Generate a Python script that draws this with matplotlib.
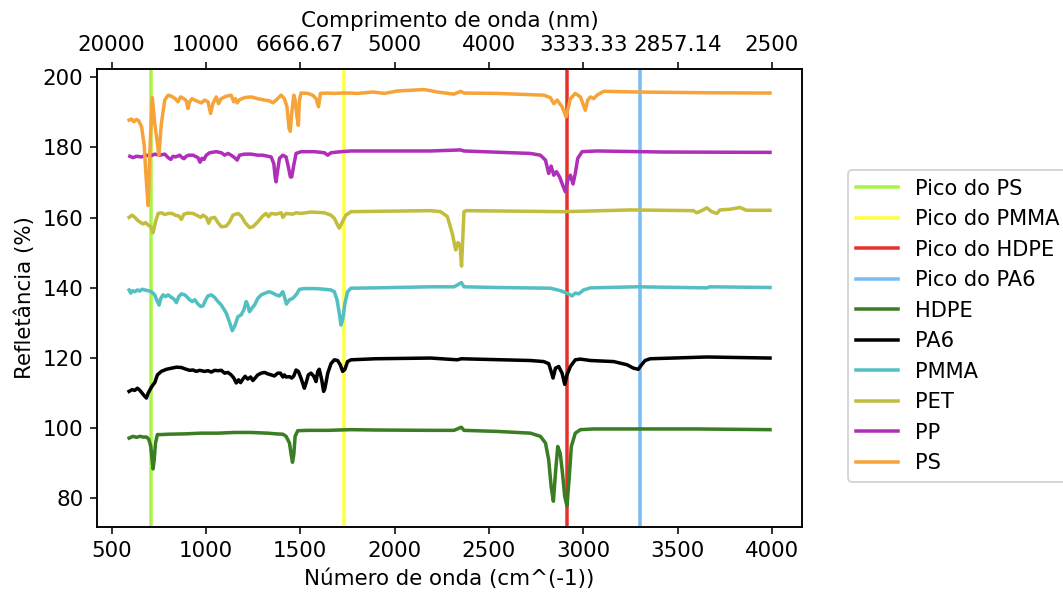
import numpy as np
import matplotlib
matplotlib.use("Agg")
import matplotlib.pyplot as plt

# picos de referencia (cm^-1)
peak_names = ["Pico do PS", "Pico do PMMA", "Pico do HDPE", "Pico do PA6"]
peak_pos = [708, 1730, 2915, 3300]
peak_colors = ["#a9f545", "#ffff3f", "#e8302a", "#78bdf7"]

# espectros: numero de onda (cm^-1) e refletancia (%)
wn_hdpe = [593, 614, 632, 650, 667, 685, 697, 708, 715, 720, 726, 733, 743, 764, 800,
           888, 976, 1064, 1152, 1240, 1328, 1372, 1408, 1425, 1443, 1452, 1459, 1466,
           1473, 1487, 1540, 1646, 1769, 1900, 2192, 2315, 2333, 2354, 2368, 2544, 2720,
           2773, 2800, 2817, 2830, 2842, 2853, 2865, 2878, 2890, 2902, 2914, 2925, 2937,
           2958, 2985, 3055, 3285, 3602, 3990]
r_hdpe = [97.2, 97.7, 97.4, 97.7, 97.5, 97.5, 96.9, 94.8, 91.0, 88.4, 91.0, 95.8, 98.2, 98.2,
          98.3, 98.4, 98.6, 98.6, 98.8, 98.8, 98.6, 98.4, 98.3, 97.7, 95.8, 92.5, 90.3, 92.5,
          97.7, 99.3, 99.4, 99.4, 99.6, 99.5, 99.4, 99.4, 99.8, 100.3, 99.4, 99.1, 98.6,
          97.7, 95.8, 91.0, 83.4, 79.2, 87.3, 94.8, 92.9, 87.3, 80.6, 77.8, 85.4, 94.8,
          98.6, 99.6, 99.8, 99.8, 99.8, 99.6]

wn_pa6 = [593, 609, 623, 637, 650, 662, 676, 685, 694, 708, 720, 729, 743, 764, 791, 817,
          844, 870, 896, 914, 932, 949, 967, 993, 1011, 1029, 1046, 1064, 1082, 1099, 1117,
          1134, 1148, 1161, 1173, 1184, 1196, 1208, 1222, 1237, 1249, 1261, 1275, 1293, 1311,
          1328, 1346, 1363, 1381, 1395, 1408, 1416, 1425, 1443, 1455, 1466, 1478, 1490, 1504,
          1522, 1531, 1543, 1557, 1571, 1584, 1593, 1601, 1614, 1624, 1631, 1646, 1663, 1681,
          1698, 1712, 1725, 1737, 1751, 1769, 1900, 2192, 2333, 2354, 2720, 2791, 2817, 2830,
          2840, 2853, 2870, 2888, 2902, 2914, 2932, 2958, 2985, 3038, 3161, 3232, 3267, 3292,
          3305, 3328, 3355, 3655, 3990]
r_pa6 = [110.5, 111.0, 110.8, 111.4, 110.8, 110.0, 109.1, 108.6, 110.0, 111.4, 112.4, 113.0,
         115.2, 116.2, 116.8, 117.1, 117.4, 117.3, 116.8, 116.5, 116.6, 116.2, 116.5, 116.2,
         116.4, 116.0, 116.5, 116.4, 116.5, 115.7, 115.9, 115.2, 114.3, 112.9, 113.8, 113.0,
         114.0, 114.8, 114.0, 114.6, 113.6, 114.3, 115.2, 115.7, 115.9, 115.5, 115.2, 114.9,
         115.7, 115.7, 114.6, 115.2, 114.6, 114.7, 114.3, 114.9, 116.6, 116.2, 114.3, 111.4,
         112.9, 115.2, 115.7, 114.9, 113.3, 116.2, 116.8, 113.8, 110.5, 111.4, 115.7, 118.4,
         119.5, 119.3, 118.1, 116.2, 116.8, 119.0, 119.5, 119.8, 120.0, 119.5, 119.8, 119.3,
         119.0, 118.4, 116.2, 114.3, 117.1, 117.6, 115.7, 112.5, 115.2, 117.6, 119.5, 119.7,
         119.3, 119.0, 118.1, 117.1, 116.8, 117.8, 119.3, 119.8, 120.3, 120.0]

wn_pmma = [593, 602, 611, 623, 637, 650, 662, 676, 694, 711, 729, 743, 752, 761, 773, 786,
           800, 817, 831, 844, 856, 870, 888, 902, 914, 927, 941, 958, 972, 985, 997, 1011,
           1029, 1046, 1064, 1082, 1108, 1126, 1140, 1152, 1170, 1187, 1201, 1214, 1223, 1231,
           1244, 1258, 1275, 1293, 1319, 1337, 1355, 1372, 1390, 1408, 1416, 1427, 1443, 1460,
           1478, 1496, 1522, 1575, 1610, 1663, 1681, 1695, 1707, 1716, 1725, 1737, 1751, 1769,
           1900, 2192, 2315, 2333, 2354, 2368, 2544, 2826, 2879, 2914, 2941, 2958, 2976, 3002,
           3038, 3285, 3655, 3672, 3990]
r_pmma = [139.4, 138.5, 139.2, 138.9, 139.4, 139.1, 139.6, 139.4, 139.2, 138.9, 138.0, 136.1,
          135.1, 137.0, 138.0, 137.5, 138.0, 137.3, 136.8, 135.8, 137.5, 138.3, 138.0, 137.3,
          136.6, 136.1, 136.6, 135.4, 134.7, 134.9, 136.4, 137.7, 138.0, 137.3, 136.1, 135.1,
          132.8, 130.1, 127.8, 129.0, 131.8, 132.3, 133.7, 136.1, 134.9, 133.2, 134.2, 135.1,
          137.0, 138.0, 138.6, 138.9, 138.5, 138.0, 137.7, 138.9, 137.5, 135.4, 136.6, 137.0,
          138.0, 139.6, 139.8, 139.8, 139.7, 139.4, 138.9, 136.6, 132.8, 129.4, 130.9, 135.6,
          138.9, 139.9, 140.0, 140.3, 140.3, 140.8, 141.5, 140.3, 140.1, 139.9, 139.2, 138.5,
          137.7, 138.5, 138.3, 139.4, 140.0, 140.3, 140.0, 140.3, 140.1]

wn_pet = [593, 609, 623, 641, 655, 667, 680, 694, 708, 720, 733, 747, 764, 782, 800, 821,
          838, 856, 870, 884, 905, 932, 958, 972, 985, 1002, 1015, 1025, 1046, 1064, 1082,
          1108, 1126, 1143, 1170, 1187, 1208, 1231, 1249, 1275, 1302, 1319, 1332, 1346, 1372,
          1399, 1408, 1425, 1460, 1478, 1504, 1531, 1557, 1593, 1628, 1663, 1681, 1698, 1707,
          1720, 1742, 1769, 1900, 2192, 2244, 2280, 2306, 2324, 2336, 2347, 2355, 2368, 2382,
          2896, 3249, 3584, 3602, 3628, 3655, 3681, 3708, 3725, 3778, 3831, 3866, 3990]
r_pet = [160.1, 160.7, 160.1, 159.1, 158.6, 158.2, 158.6, 157.9, 157.4, 155.7, 158.8, 161.2,
         161.4, 160.9, 161.2, 161.2, 160.7, 160.5, 159.5, 161.0, 161.3, 161.2, 160.5, 160.1,
         160.7, 160.1, 158.4, 159.8, 160.1, 158.6, 157.4, 157.6, 158.8, 160.7, 161.2, 160.5,
         158.6, 157.2, 157.4, 158.8, 160.5, 161.2, 160.3, 161.2, 161.0, 161.4, 160.1, 161.2,
         161.0, 161.4, 161.2, 161.4, 161.6, 161.5, 161.4, 160.7, 159.8, 157.9, 157.0, 158.4,
         160.7, 161.7, 161.8, 162.0, 161.7, 160.3, 155.5, 150.8, 152.9, 152.2, 146.2, 161.7,
         162.0, 161.7, 162.2, 162.0, 161.4, 162.0, 162.8, 161.7, 161.2, 162.2, 162.4, 162.9,
         162.1, 162.1]

wn_pp = [597, 614, 632, 659, 685, 703, 729, 755, 782, 800, 814, 826, 838, 849, 861, 874,
         884, 896, 909, 932, 958, 969, 979, 990, 1002, 1020, 1055, 1082, 1099, 1117, 1134,
         1152, 1166, 1178, 1205, 1240, 1275, 1302, 1328, 1346, 1360, 1367, 1372, 1378, 1390,
         1408, 1425, 1437, 1448, 1455, 1466, 1478, 1504, 1575, 1628, 1646, 1663, 1716, 1769,
         1900, 2192, 2350, 2368, 2720, 2773, 2800, 2817, 2830, 2844, 2858, 2875, 2891, 2905,
         2918, 2932, 2946, 2958, 2971, 2994, 3073, 3425, 3990]
r_pp = [177.5, 177.1, 177.5, 177.3, 177.8, 177.5, 178.1, 177.8, 178.1, 177.1, 176.6, 177.5,
        177.3, 177.5, 177.8, 177.1, 176.8, 177.5, 177.8, 177.8, 177.1, 175.8, 176.9, 176.6,
        177.8, 178.5, 178.8, 178.5, 177.8, 178.3, 177.8, 177.1, 176.4, 177.8, 178.1, 178.1,
        177.8, 177.8, 177.5, 177.3, 175.4, 171.6, 170.2, 172.6, 176.9, 177.8, 177.3, 174.5,
        171.6, 171.6, 175.0, 178.3, 178.8, 178.8, 178.5, 177.8, 178.5, 178.8, 179.0, 179.0,
        179.0, 179.3, 179.0, 178.3, 177.8, 176.4, 172.6, 174.7, 172.1, 173.1, 171.6, 169.3,
        167.4, 170.7, 172.1, 169.6, 172.6, 176.9, 178.8, 179.0, 178.7, 178.6]

wn_ps = [593, 606, 618, 632, 644, 659, 673, 683, 694, 704, 716, 729, 751, 764, 782, 800,
         817, 838, 852, 866, 884, 896, 905, 914, 926, 949, 976, 993, 1011, 1025, 1037, 1055,
         1067, 1081, 1108, 1134, 1148, 1157, 1166, 1178, 1205, 1240, 1275, 1311, 1337, 1355,
         1372, 1399, 1416, 1430, 1441, 1447, 1455, 1466, 1473, 1483, 1490, 1496, 1504, 1540,
         1566, 1584, 1597, 1607, 1645, 1681, 1716, 1760, 1804, 1887, 1945, 2016, 2157, 2227,
         2315, 2350, 2368, 2544, 2791, 2826, 2844, 2862, 2888, 2909, 2932, 2958, 2985, 3011,
         3024, 3038, 3055, 3073, 3108, 3285, 3637, 3990]
r_ps = [187.8, 188.1, 187.3, 188.0, 187.6, 185.9, 180.7, 171.6, 163.5, 180.2, 194.2, 186.8,
        177.8, 186.8, 193.5, 194.9, 194.6, 193.9, 193.0, 194.4, 193.9, 193.3, 191.1, 193.0,
        193.9, 193.3, 192.7, 193.5, 193.0, 189.7, 192.5, 194.4, 192.5, 193.9, 194.6, 194.9,
        193.0, 193.9, 192.7, 193.6, 194.2, 194.4, 193.9, 193.5, 193.3, 192.7, 193.5, 194.9,
        193.9, 191.6, 185.4, 184.6, 189.7, 194.9, 193.5, 188.7, 186.3, 193.5, 195.5, 195.4,
        194.9, 193.9, 191.6, 195.4, 195.5, 195.4, 195.5, 195.5, 195.4, 195.8, 195.4, 196.1,
        196.5, 195.8, 195.2, 196.0, 195.5, 195.4, 194.9, 194.2, 192.5, 193.5, 191.6, 188.7,
        193.9, 195.4, 194.4, 190.6, 193.5, 194.4, 193.9, 194.9, 196.0, 195.8, 195.6, 195.5]

series = [
    ("HDPE", wn_hdpe, r_hdpe, "#3a7d22"),
    ("PA6", wn_pa6, r_pa6, "black"),
    ("PMMA", wn_pmma, r_pmma, "#52bfc1"),
    ("PET", wn_pet, r_pet, "#c2bd3c"),
    ("PP", wn_pp, r_pp, "#b02fb9"),
    ("PS", wn_ps, r_ps, "#f6a33a"),
]

plt.rcParams["font.size"] = 11

fig = plt.figure(figsize=(1063 / 140, 594 / 140), dpi=140)
ax = fig.add_axes([0.0913, 0.1128, 0.7545 - 0.0913, 0.8843 - 0.1128])

for name, pos, col in zip(peak_names, peak_pos, peak_colors):
    ax.axvline(pos, color=col, lw=1.8, label=name)

for name, wn, r, col in series:
    ax.plot(wn, r, color=col, lw=1.8, label=name)

ax.set_xlabel("Número de onda (cm^(-1))")
ax.set_ylabel("Refletância (%)")

ticks = [500, 1000, 1500, 2000, 2500, 3000, 3500, 4000]
ax.set_xticks(ticks)

ax2 = ax.twiny()
ax2.set_xlim(ax.get_xlim())
ax2.set_xticks(ticks)
ax2.set_xticklabels([f"{1e7 / t:.2f}".rstrip("0").rstrip(".") for t in ticks])
ax2.set_xlabel("Comprimento de onda (nm)")

ax.legend(loc="center left", bbox_to_anchor=(1.065, 0.4386), borderaxespad=0,
          fontsize=10.8)

fig.savefig("out.png", dpi=140)
